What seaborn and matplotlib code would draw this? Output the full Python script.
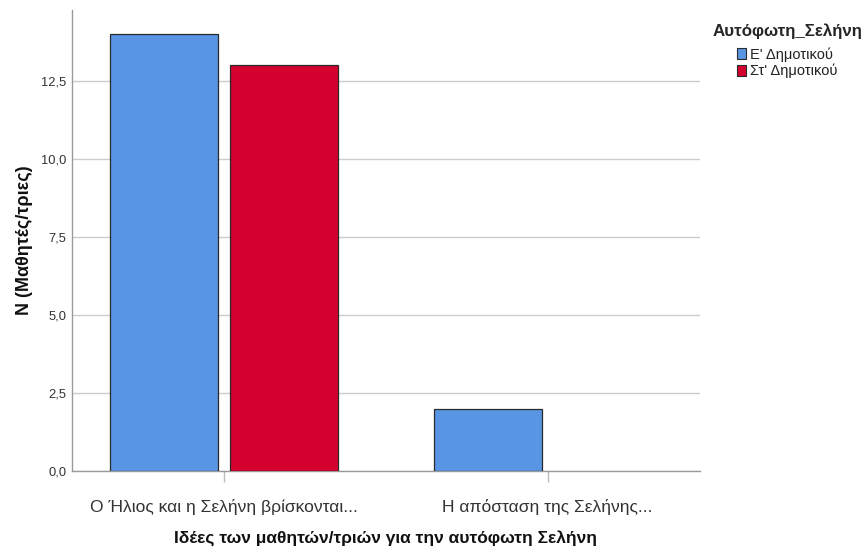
import matplotlib
matplotlib.use("Agg")
import matplotlib.pyplot as plt
import matplotlib.ticker as mticker
from matplotlib.patches import Patch
import seaborn as sns
import pandas as pd

# Data: counts of pupils per idea, by grade
categories = ["Ο Ήλιος και η Σελήνη βρίσκονται...", "Η απόσταση της Σελήνης..."]
grades = ["Ε' Δημοτικού", "Στ' Δημοτικού"]
grade_e = [14, 2]
grade_st = [13, None]  # no pupils of this grade gave the second idea

rows = []
for cat, e, st in zip(categories, grade_e, grade_st):
    if e is not None:
        rows.append({"idea": cat, "grade": grades[0], "n": e})
    if st is not None:
        rows.append({"idea": cat, "grade": grades[1], "n": st})
df = pd.DataFrame(rows)

palette = {grades[0]: "#5895e3", grades[1]: "#d4002e"}

sns.set_style("white")
plt.rcParams["font.family"] = ["Liberation Sans", "DejaVu Sans"]

fig = plt.figure(figsize=(8.65, 5.48), dpi=100)
ax = fig.add_axes([0.0832, 0.1405, 0.7258, 0.8413])

sns.barplot(data=df, x="idea", y="n", hue="grade", order=categories,
            hue_order=grades, palette=palette, width=0.742, gap=0.1,
            edgecolor="#2a2a2a", linewidth=0.9, saturation=1,
            errorbar=None, ax=ax, legend=False, zorder=3)

ax.set_xlim(-0.47, 1.47)
ax.set_ylim(0, 14.78)
ax.yaxis.set_major_locator(mticker.MultipleLocator(2.5))
ax.yaxis.set_major_formatter(mticker.FuncFormatter(lambda v, p: f"{v:.1f}".replace(".", ",")))
ax.grid(axis="y", color="#cccccc", linewidth=1, zorder=0)
ax.set_axisbelow(True)

for side in ["top", "right"]:
    ax.spines[side].set_visible(False)
for side in ["left", "bottom"]:
    ax.spines[side].set_color("#9a9a9a")
    ax.spines[side].set_linewidth(1)

ax.tick_params(axis="y", which="major", length=0, labelsize=9.3,
               labelcolor="#333333", pad=4, left=True)
ax.tick_params(axis="x", which="major", length=8, width=1, color="#bbbbbb",
               labelsize=12.5, labelcolor="#333333", pad=12, bottom=True, direction="out")

ax.set_xlabel("Ιδέες των μαθητών/τριών για την αυτόφωτη Σελήνη",
              fontsize=12.5, fontweight="bold", color="#111111", labelpad=11)
ax.set_ylabel("N (Μαθητές/τριες)", fontsize=13, fontweight="bold",
              color="#111111", labelpad=6)

handles = [Patch(facecolor=palette[g], edgecolor="#2a2a2a", linewidth=0.8) for g in grades]
leg = fig.legend(handles, grades, title="Αυτόφωτη_Σελήνη", loc="upper left",
                 bbox_to_anchor=(0.812, 0.976), frameon=False, fontsize=10.5,
                 handlelength=0.6, handleheight=0.75, handletextpad=0.3,
                 labelspacing=0.15, borderaxespad=0.3,
                 title_fontproperties={"weight": "bold", "size": 12.2})
leg._legend_box.sep = 6
for t in leg.get_texts():
    t.set_color("#222222")

fig.savefig("out.png", dpi=100)
